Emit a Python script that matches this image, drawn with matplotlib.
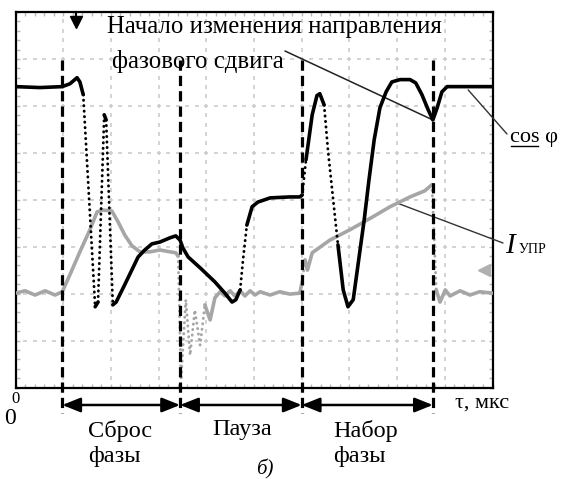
import numpy as np
import matplotlib
matplotlib.use("Agg")
import matplotlib.pyplot as plt
from matplotlib.lines import Line2D
from matplotlib.ticker import MultipleLocator

# ---- oscillogram traces (time and amplitude in screen divisions) ----
cos_t = [0.00, 0.51, 0.98, 1.14, 1.29, 1.35, 1.42, 1.67, 1.73, 1.86, 1.90, 2.04,
         2.11, 2.29, 2.57, 2.71, 2.86, 3.03, 3.24, 3.36, 3.45, 3.51, 3.62, 3.87,
         4.18, 4.39, 4.54, 4.62, 4.71, 4.77, 4.85, 4.96, 5.08, 5.34, 5.75, 5.96,
         6.01, 6.09, 6.22, 6.32, 6.38, 6.47, 6.55, 6.66, 6.76, 6.87, 6.97, 7.08,
         7.18, 7.31, 7.41, 7.52, 7.64, 7.77, 7.89, 8.06, 8.27, 8.39, 8.52, 8.65,
         8.75, 8.84, 8.94, 9.05, 9.53, 10.0]
cos_v = [6.41, 6.39, 6.41, 6.47, 6.60, 6.51, 6.24, 1.72, 1.82, 5.81, 5.70, 1.76,
         1.82, 2.19, 2.78, 2.93, 3.06, 3.10, 3.19, 3.23, 3.14, 2.97, 2.78, 2.55,
         2.25, 2.01, 1.82, 1.87, 2.08, 2.72, 3.46, 3.85, 3.95, 4.04, 4.06, 4.06,
         4.10, 4.85, 5.81, 6.22, 6.26, 6.02, 5.06, 4.00, 3.04, 2.08, 1.72, 1.87,
         2.61, 3.57, 4.42, 5.28, 5.96, 6.30, 6.51, 6.56, 6.56, 6.49, 6.24, 5.92,
         5.70, 5.96, 6.30, 6.41, 6.41, 6.41]

ctl_t = [0.00, 0.20, 0.41, 0.62, 0.83, 0.98, 1.14, 1.35, 1.56, 1.71, 1.83, 2.02,
         2.15, 2.29, 2.44, 2.61, 2.82, 3.03, 3.24, 3.36, 3.41, 3.47, 3.57, 3.66,
         3.76, 3.87, 3.97, 4.08, 4.18, 4.29, 4.39, 4.50, 4.60, 4.71, 4.81, 4.92,
         5.02, 5.13, 5.34, 5.54, 5.75, 5.96, 6.01, 6.07, 6.12, 6.22, 6.59, 7.01,
         7.43, 7.85, 8.27, 8.58, 8.73, 8.77, 8.82, 8.90, 9.01, 9.11, 9.32, 9.53,
         9.73, 10.0]
ctl_v = [2.01, 2.06, 1.97, 2.06, 1.97, 2.04, 2.40, 2.89, 3.36, 3.74, 3.78, 3.76,
         3.53, 3.25, 3.02, 2.89, 2.89, 2.93, 2.89, 2.87, 2.80, 0.16, 1.87, 0.69,
         1.65, 0.90, 1.76, 1.44, 1.91, 2.04, 1.95, 2.06, 1.95, 2.06, 1.95, 2.06,
         1.97, 2.04, 1.97, 2.04, 1.99, 2.01, 2.25, 2.72, 2.50, 2.87, 3.14, 3.36,
         3.60, 3.85, 4.06, 4.19, 4.32, 3.40, 2.08, 1.82, 2.08, 1.95, 2.06, 1.97,
         2.04, 2.01]

# interval boundaries (divisions) and their captions
phase_marks = [0.98, 3.45, 6.00, 8.75]
phase_names = ["Сброс\nфазы", "Пауза", "Набор\nфазы"]

W, H = 565, 479
SERIF = ["Liberation Serif", "DejaVu Serif"]
plt.rcParams["font.family"] = SERIF


def fp(x, y):
    """pixel position -> figure fraction"""
    return x / W, 1 - y / H


def draw_trace(ax, t, v, color, lw, fast_slope):
    """Slow parts as a solid line, fast transitions as sparse dots."""
    t = np.asarray(t, float)
    v = np.asarray(v, float)
    fast = np.abs(np.diff(v) / np.diff(t)) > fast_slope
    start = 0
    n = len(fast)
    for i in range(1, n + 1):
        if i == n or fast[i] != fast[start]:
            seg = slice(start, i + 1)
            if fast[start]:
                ax.plot(t[seg], v[seg], color=color, lw=lw * 0.8,
                        linestyle=(0, (0.1, 1.8)), dash_capstyle="round", zorder=4)
            else:
                ax.plot(t[seg], v[seg], color=color, lw=lw,
                        solid_capstyle="round", solid_joinstyle="round", zorder=4)
            start = i


fig = plt.figure(figsize=(W / 100, H / 100), dpi=100)
ax = fig.add_axes([15.5 / W, 1 - 387.5 / H, 477 / W, 375.5 / H])
ax.set_xlim(0, 10)
ax.set_ylim(0, 8)

# screen graticule: dotted division lines and small inward ticks on the frame
gx = np.arange(0.2, 10, 0.2)
gy = np.arange(0.2, 8, 0.2)
for k in range(1, 8):
    ax.plot(gx, np.full_like(gx, k), ls="none", marker="_", ms=2.6, mew=1.2,
            color="#cccccc", zorder=1)
for k in range(1, 10):
    ax.plot(np.full_like(gy, k), gy, ls="none", marker="|", ms=2.6, mew=1.2,
            color="#cccccc", zorder=1)
ax.xaxis.set_major_locator(MultipleLocator(1))
ax.yaxis.set_major_locator(MultipleLocator(1))
ax.xaxis.set_minor_locator(MultipleLocator(0.2))
ax.yaxis.set_minor_locator(MultipleLocator(0.2))
ax.tick_params(which="both", direction="in", length=3, width=1, color="#bbbbbb",
               top=True, right=True, labelbottom=False, labelleft=False)
for s in ax.spines.values():
    s.set_linewidth(1.6)
    s.set_color("black")

# traces
draw_trace(ax, ctl_t, ctl_v, "#a6a6a6", 2.6, 6)
draw_trace(ax, cos_t, cos_v, "black", 2.6, 9)

# interval boundaries, running below the frame to the arrow row
xt = ax.get_xaxis_transform()
y_top = (387.5 - 60) / 375.5
y_bot = (387.5 - 413) / 375.5
y_arr = (387.5 - 405) / 375.5
for m in phase_marks:
    ax.plot([m, m], [y_top, y_bot], transform=xt, color="black", lw=2.3,
            linestyle=(0, (3.2, 1.6)), dash_capstyle="butt", clip_on=False, zorder=5)
for a, b in zip(phase_marks[:-1], phase_marks[1:]):
    ax.annotate("", xy=(b, y_arr), xytext=(a, y_arr), xycoords=xt, textcoords=xt,
                arrowprops=dict(arrowstyle="<|-|>,head_length=0.55,head_width=0.22",
                                mutation_scale=20, lw=1.8, color="black",
                                shrinkA=0, shrinkB=0), annotation_clip=False)

# captions of the intervals
fig.text(*fp(88, 437), "Сброс", fontsize=17.5, va="baseline")
fig.text(*fp(88, 462), "фазы", fontsize=17.5, va="baseline")
fig.text(*fp(212, 435), "Пауза", fontsize=17.5, va="baseline")
fig.text(*fp(333, 437), "Набор", fontsize=17.5, va="baseline")
fig.text(*fp(333, 462), "фазы", fontsize=17.5, va="baseline")
fig.text(*fp(256, 474), "б)", fontsize=15, style="italic", va="baseline")
fig.text(*fp(455, 408), "τ, мкс", fontsize=16, va="baseline")
fig.text(*fp(16, 399), "0", fontsize=12, ha="center", va="center")
fig.text(*fp(10, 419), "0", fontsize=17, ha="center", va="center")

# top annotation
fig.text(*fp(107, 33), "Начало изменения направления", fontsize=17.8, va="baseline")
fig.text(*fp(112, 68), "фазового сдвига", fontsize=17.8, va="baseline")
ax.annotate("", xy=(8.75, 5.70), xycoords="data", xytext=fp(285, 51),
            textcoords="figure fraction",
            arrowprops=dict(arrowstyle="-", lw=1.1, color="#222222", shrinkA=0, shrinkB=0),
            annotation_clip=False)

# trace labels
fig.text(*fp(510, 142), "cos φ", fontsize=16, va="baseline")
fig.add_artist(Line2D([511 / W, 538 / W], [1 - 146 / H, 1 - 146 / H],
                      transform=fig.transFigure, color="black", lw=1.0))
ax.annotate("", xy=(9.49, 6.34), xycoords="data", xytext=fp(507, 134),
            textcoords="figure fraction",
            arrowprops=dict(arrowstyle="-", lw=1.0, color="#333333", shrinkA=0, shrinkB=0),
            annotation_clip=False)
fig.text(*fp(505, 253), "I", fontsize=21, style="italic", va="baseline")
fig.text(*fp(519, 253), "УПР", fontsize=10, va="baseline")
ax.annotate("", xy=(8.00, 3.93), xycoords="data", xytext=fp(503, 243),
            textcoords="figure fraction",
            arrowprops=dict(arrowstyle="-", lw=1.0, color="#333333", shrinkA=0, shrinkB=0),
            annotation_clip=False)

# trigger and ground-level markers of the scope screen
fig.add_artist(Line2D([76 / W, 76 / W], [1 - 12 / H, 1 - 21 / H],
                      transform=fig.transFigure, color="black", lw=1.5))
fig.add_artist(Line2D([76 / W], [1 - 22 / H], transform=fig.transFigure,
                      marker="v", ms=8, color="black", ls="none"))
fig.add_artist(Line2D([484 / W], [1 - 270 / H], transform=fig.transFigure,
                      marker="<", ms=8, color="#b0b0b0", ls="none"))

fig.savefig("out.png", dpi=100)
